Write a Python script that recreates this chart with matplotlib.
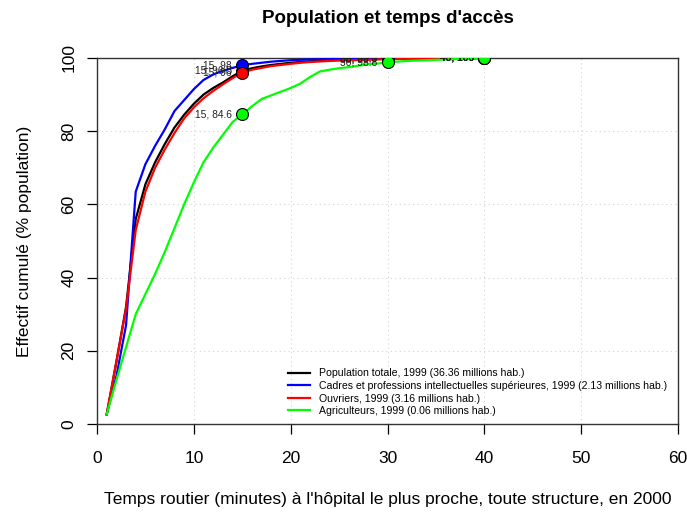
import matplotlib
matplotlib.use("Agg")
import matplotlib.pyplot as plt

plt.rcParams['font.family'] = ['Liberation Sans', 'DejaVu Sans']

# minutes de trajet (1 a 40) et effectif cumule (%) par categorie
minutes = list(range(1, 41))

pop_totale = [2.6, 17, 32, 56, 65.5, 71.5, 76.5, 81, 84.5, 87.5,
              90, 91.8, 93.3, 95, 96.5, 97.2, 97.7, 98.1, 98.4, 98.7,
              98.9, 99.1, 99.25, 99.4, 99.5, 99.6, 99.65, 99.7, 99.75, 99.8,
              99.82, 99.84, 99.86, 99.88, 99.9, 99.92, 99.94, 99.96, 99.98, 100]
cadres = [2.6, 13, 27, 63.5, 71, 76, 80.5, 85.5, 88.5, 91.5,
          94, 95.5, 96.5, 97.3, 98, 98.4, 98.7, 99, 99.2, 99.4,
          99.5, 99.6, 99.65, 99.7, 99.75, 99.8, 99.82, 99.85, 99.88, 99.9,
          99.91, 99.92, 99.93, 99.94, 99.95, 99.96, 99.97, 99.98, 99.99, 100]
ouvriers = [2.6, 17, 31.5, 53, 63.5, 70, 75, 79.5, 83.5, 86.5,
            89, 91, 92.8, 94.5, 96, 96.8, 97.3, 97.8, 98.1, 98.4,
            98.7, 98.9, 99.05, 99.2, 99.3, 99.4, 99.45, 99.5, 99.6, 99.7,
            99.73, 99.76, 99.79, 99.82, 99.85, 99.88, 99.91, 99.94, 99.97, 100]
agriculteurs = [2.6, 12, 21, 30, 35.5, 41, 47, 53.5, 60, 66,
                71.5, 75.5, 79, 82.5, 84.6, 86.8, 88.8, 89.8, 90.8, 91.8,
                93, 94.8, 96.3, 96.8, 97.2, 97.5, 97.9, 98.3, 98.5, 98.8,
                99.0, 99.2, 99.3, 99.4, 99.5, 99.6, 99.7, 99.8, 99.9, 100]

series = [pop_totale, cadres, ouvriers, agriculteurs]
couleurs = ['black', 'blue', 'red', '#00ff00']
legendes = ['Population totale, 1999 (36.36 millions hab.)',
            'Cadres et professions intellectuelles supérieures, 1999 (2.13 millions hab.)',
            'Ouvriers, 1999 (3.16 millions hab.)',
            'Agriculteurs, 1999 (0.06 millions hab.)']
seuils = [15, 30, 40]

fig = plt.figure(figsize=(6.87, 5.14), dpi=100)
ax = fig.add_axes([97 / 687, 90 / 514, 581 / 687, 366 / 514])

ax.set_xlim(0, 60)
ax.set_ylim(0, 100)
ax.grid(True, color='#d3d3d3', linestyle=(0, (1, 3)), linewidth=0.8)
ax.set_axisbelow(True)

for ys, c, lab in zip(series, couleurs, legendes):
    ax.plot(minutes, ys, color=c, lw=1.6, label=lab, zorder=3)

# points et etiquettes coupes au cadre, comme dans R
for ys, c in zip(series, couleurs):
    for s in seuils:
        v = ys[minutes.index(s)]
        ax.plot([s], [v], 'o', ms=8.6, mfc=c, mec='black', mew=0.8, zorder=4)
        ax.annotate('%d, %g' % (s, v), (s, v), xytext=(-7.4, 0),
                    textcoords='offset points', ha='right', va='center',
                    fontsize=7.4, color='#222222', zorder=5, clip_on=True)

ax.set_xticks(range(0, 61, 10))
ax.set_yticks(range(0, 101, 20))
ax.tick_params(direction='out', length=7, width=0.9, labelsize=12.5)
ax.tick_params(axis='x', pad=12.5)
ax.tick_params(axis='y', pad=8)
for lbl in ax.get_yticklabels():
    lbl.set_rotation(90)
    lbl.set_va('center')
for sp in ax.spines.values():
    sp.set_color('#333333')
    sp.set_linewidth(1.0)

ax.set_title("Population et temps d'accès", fontsize=13.5, fontweight='bold', pad=25.5)
ax.set_xlabel("Temps routier (minutes) à l'hôpital le plus proche, toute structure, en 2000",
              fontsize=12.5, labelpad=19)
ax.set_ylabel('Effectif cumulé (% population)', fontsize=12.5, labelpad=21)

ax.legend(loc='upper left', bbox_to_anchor=((288 - 97) / 581, (424 - 368.5) / 366),
          frameon=False, fontsize=7.6, borderpad=0, borderaxespad=0,
          handlelength=2.1, handletextpad=0.8, labelspacing=0.24)

fig.savefig('out.png', dpi=100)
